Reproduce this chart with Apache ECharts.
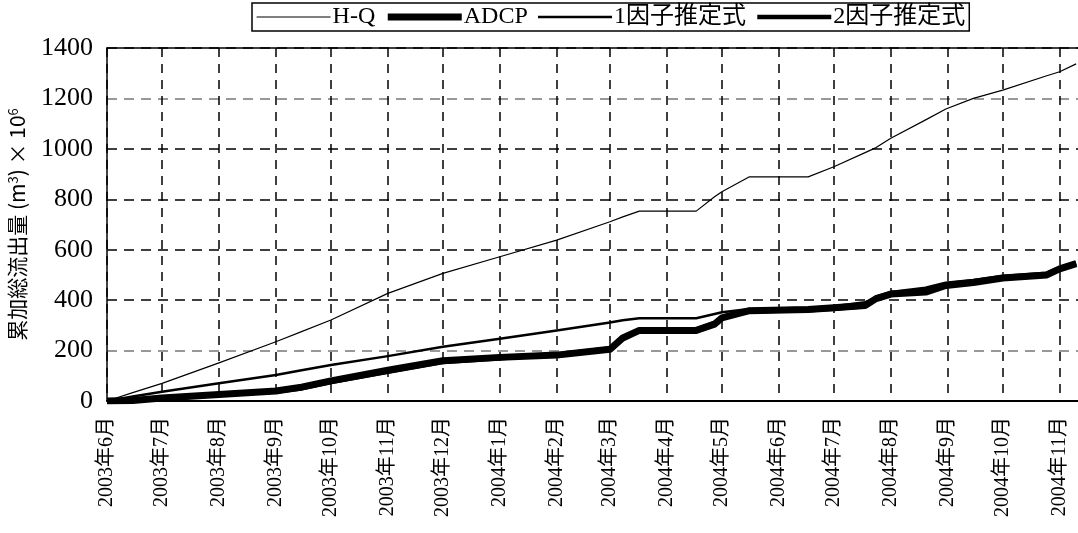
<!DOCTYPE html>
<html>
<head>
<meta charset="utf-8">
<script src="https://cdn.jsdelivr.net/npm/echarts@6/dist/echarts.min.js"></script>
<style>
  html, body { margin: 0; padding: 0; background: #fff; }
  #chart { width: 1078px; height: 533px; }
</style>
</head>
<body>
<div id="chart"></div>
<script>
// Sampling dates shared by all four cumulative series
const dates = [
  '2003-06-01', '2003-06-15', '2003-07-01', '2003-08-01', '2003-09-01', '2003-09-15',
  '2003-10-01', '2003-11-01', '2003-12-01', '2004-01-01', '2004-02-01', '2004-03-01',
  '2004-03-08', '2004-03-17', '2004-04-17', '2004-04-27', '2004-05-01', '2004-05-16',
  '2004-06-17', '2004-07-01', '2004-07-18', '2004-07-24', '2004-08-01', '2004-08-20',
  '2004-08-31', '2004-09-15', '2004-10-01', '2004-10-25', '2004-11-01', '2004-11-10'
];

// Cumulative total outflow (10^6 m3)
const hq = [
  0, 33, 70, 151, 235, 275,
  321, 427, 506, 572, 638, 711,
  730, 753, 753, 810, 830, 889,
  889, 929, 985, 1005, 1042, 1115,
  1158, 1200, 1233, 1290, 1306, 1337
];
const adcp = [
  0, 2, 12, 26, 40, 55,
  80, 122, 160, 173, 182, 205,
  250, 280, 280, 305, 330, 358,
  363, 370, 379, 406, 424, 432,
  458, 470, 488, 500, 524, 545
];
const oneFactor = [
  0, 18, 37, 70, 103, 122,
  143, 178, 215, 247, 280, 311,
  320, 328, 328, 345, 352, 365,
  370, 376, 392, 408, 430, 440,
  462, 475, 487, 502, 520, 540
];
const twoFactor = [
  0, 3, 10, 24, 38, 50,
  75, 116, 155, 170, 184, 208,
  248, 282, 282, 310, 332, 356,
  360, 366, 376, 410, 428, 445,
  465, 476, 492, 505, 527, 548
];

const seriesNames = ['H-Q', 'ADCP', '1因子推定式', '2因子推定式'];
const lineWidths = [1.2, 7, 2.5, 4.5];

const tickLabels = [
  '2003年6月', '2003年7月', '2003年8月', '2003年9月', '2003年10月', '2003年11月',
  '2003年12月', '2004年1月', '2004年2月', '2004年3月', '2004年4月', '2004年5月',
  '2004年6月', '2004年7月', '2004年8月', '2004年9月', '2004年10月', '2004年11月'
];

// x is measured in days from 1 June 2003
const origin = Date.UTC(2003, 5, 1);
const DAY = 86400000;
function dayOf(str) {
  const p = str.split('-').map(Number);
  return (Date.UTC(p[0], p[1] - 1, p[2]) - origin) / DAY;
}
const tickDays = tickLabels.map(function (t) {
  const m = t.match(/(\d+)年(\d+)月/);
  return (Date.UTC(+m[1], +m[2] - 1, 1) - origin) / DAY;
});
function pairs(vals) {
  return dates.map(function (d, i) { return [dayOf(d), vals[i]]; });
}

const serif = "'Liberation Serif', 'Noto Sans CJK JP', serif";
const sans = "'Noto Sans CJK JP', sans-serif";

const chart = echarts.init(document.getElementById('chart'), null, { renderer: 'canvas' });

function lineSeries(idx, vals) {
  return {
    name: seriesNames[idx],
    type: 'line',
    data: pairs(vals),
    symbol: 'none',
    smooth: false,
    lineStyle: { color: '#000', width: lineWidths[idx], cap: 'butt', join: 'round' },
    itemStyle: { color: '#000' },
    emphasis: { disabled: true }
  };
}

chart.setOption({
  animation: false,
  backgroundColor: '#fff',
  textStyle: { fontFamily: serif, color: '#000' },
  legend: {
    left: 252,
    top: 3,
    padding: [2, 4, 2, 4],
    borderColor: '#000',
    borderWidth: 1.5,
    borderRadius: 0,
    itemWidth: 74,
    itemHeight: 14,
    itemGap: 9,
    selectedMode: false,
    textStyle: { fontFamily: serif, fontSize: 24, color: '#000', padding: [0, 0, 0, -3] },
    data: seriesNames.map(function (n, i) {
      return {
        name: n,
        lineStyle: { color: '#000', width: lineWidths[i] },
        itemStyle: { color: 'rgba(0,0,0,0)', borderWidth: 0, opacity: 0 }
      };
    })
  },
  grid: {
    left: 107,
    top: 48,
    right: 0,
    bottom: 132,
    containLabel: false,
    outerBoundsMode: 'none'
  },
  xAxis: [
    {
      type: 'value',
      min: 0,
      max: 529,
      axisLine: { show: true, onZero: false, lineStyle: { color: '#000', width: 2 } },
      axisTick: { show: false, customValues: tickDays },
      axisLabel: {
        customValues: tickDays,
        rotate: 90,
        margin: 16,
        fontFamily: serif,
        fontSize: 20,
        color: '#000',
        formatter: function (v) {
          const i = tickDays.indexOf(v);
          return i >= 0 ? tickLabels[i] : '';
        }
      },
      splitLine: { show: true, lineStyle: { color: '#000', width: 1.5, type: [9, 7] } }
    },
    {
      type: 'value',
      position: 'top',
      min: 0,
      max: 529,
      axisLine: { show: true, onZero: false, lineStyle: { color: '#000', width: 1.5 } },
      axisTick: { show: false },
      axisLabel: { show: false },
      splitLine: { show: false }
    }
  ],
  yAxis: {
    type: 'value',
    min: 0,
    max: 1400,
    interval: 200,
    name: '累加総流出量 (m{sup|3}) × 10{sup|6}',
    nameLocation: 'middle',
    nameRotate: 90,
    nameGap: 79,
    nameTextStyle: {
      fontFamily: sans,
      fontSize: 21,
      color: '#000',
      rich: {
        sup: { fontFamily: sans, fontSize: 13, verticalAlign: 'top', color: '#000' }
      }
    },
    axisLine: { show: true, lineStyle: { color: '#000', width: 1.5 } },
    axisTick: { show: false },
    axisLabel: {
      fontFamily: serif,
      fontSize: 26,
      color: '#000',
      margin: 14,
      formatter: function (v) { return String(v); }
    },
    splitLine: {
      show: true,
      lineStyle: {
        color: ['#000', '#777', '#000', '#000', '#000', '#000', '#777', '#000'],
        width: 1.5,
        type: [10, 7]
      }
    }
  },
  series: [
    lineSeries(0, hq),
    lineSeries(1, adcp),
    lineSeries(2, oneFactor),
    lineSeries(3, twoFactor)
  ]
});
</script>
</body>
</html>
